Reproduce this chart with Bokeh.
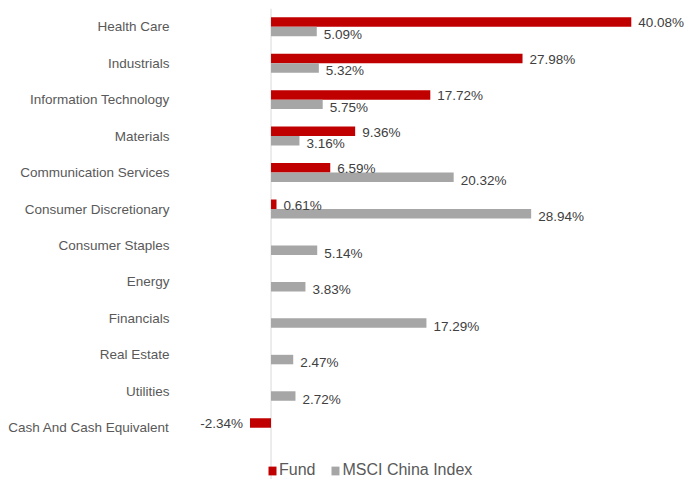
from bokeh.plotting import figure
from bokeh.models import ColumnDataSource, Range1d, FixedTicker, Span, Legend, LegendItem
from bokeh.transform import dodge
from bokeh.core.properties import value
from bokeh.embed import file_html
from bokeh.resources import INLINE

categories = ["Health Care", "Industrials", "Information Technology", "Materials",
              "Communication Services", "Consumer Discretionary", "Consumer Staples",
              "Energy", "Financials", "Real Estate", "Utilities", "Cash And Cash Equivalent"]
fund = [40.08, 27.98, 17.72, 9.36, 6.59, 0.61, None, None, None, None, None, -2.34]
index = [5.09, 5.32, 5.75, 3.16, 20.32, 28.94, 5.14, 3.83, 17.29, 2.47, 2.72, None]
series_names = ["Fund", "MSCI China Index"]

RED = "#C00000"
GRAY = "#A6A6A6"
FONT = "Liberation Sans"

def make_source(vals):
    ys, xs, labels, aligns, offs = [], [], [], [], []
    for i, v in enumerate(vals):
        if v is None:
            continue
        ys.append(i)
        xs.append(v)
        labels.append(f"{v:.2f}%")
        aligns.append("left" if v >= 0 else "right")
        offs.append(7 if v >= 0 else -7)
    return ColumnDataSource(dict(y=ys, x=xs, label=labels, align=aligns, xoff=offs))

src_f = make_source(fund)
src_i = make_source(index)

n = len(categories)
p = figure(width=685, height=479, output_backend="svg", toolbar_location=None,
           x_range=Range1d(-10.96, 46.11), y_range=Range1d(n - 0.5 + 0.92, -0.5),
           x_axis_location=None, min_border_left=172, min_border_right=0,
           min_border_top=8, min_border_bottom=0)
p.outline_line_color = None
p.xgrid.visible = False
p.ygrid.visible = False
p.background_fill_color = "white"
p.border_fill_color = "white"

p.yaxis.ticker = FixedTicker(ticks=list(range(n)))
p.yaxis.major_label_overrides = {i: c for i, c in enumerate(categories)}
p.yaxis.axis_line_color = None
p.yaxis.major_tick_line_color = None
p.yaxis.minor_tick_line_color = None
p.yaxis.major_tick_out = 0
p.yaxis.major_tick_in = 0
p.yaxis.minor_tick_out = 0
p.yaxis.major_label_standoff = 3
p.yaxis.major_label_text_font = FONT
p.yaxis.major_label_text_font_size = "13.5px"
p.yaxis.major_label_text_color = "#595959"

p.add_layout(Span(location=0, dimension="height", line_color="#D9D9D9", line_width=1,
                  level="underlay"))

bh = 0.26
rf = p.hbar(y=dodge("y", -bh / 2, range=p.y_range), right="x", left=0, height=bh,
            source=src_f, fill_color=RED, line_color=None)
ri = p.hbar(y=dodge("y", bh / 2, range=p.y_range), right="x", left=0, height=bh,
            source=src_i, fill_color=GRAY, line_color=None)

p.text(x="x", y=dodge("y", -bh / 2, range=p.y_range), text="label", source=src_f,
       text_align="align", x_offset="xoff", y_offset=1, text_baseline="middle",
       text_font=value(FONT), text_font_size="13.5px", text_color="#404040")
p.text(x="x", y=dodge("y", bh / 2, range=p.y_range), text="label", source=src_i,
       text_align="align", x_offset="xoff", y_offset=3, text_baseline="middle",
       text_font=value(FONT), text_font_size="13.5px", text_color="#404040")

legend = Legend(items=[LegendItem(label=series_names[0], renderers=[rf]),
                       LegendItem(label=series_names[1], renderers=[ri])],
                orientation="horizontal", location=(95, 0),
                glyph_width=10, glyph_height=11, label_height=14, label_standoff=2,
                spacing=15, padding=0, margin=0, border_line_color=None,
                background_fill_color="white", background_fill_alpha=0,
                label_text_font=FONT, label_text_font_size="16px",
                label_text_color="#595959")
p.add_layout(legend, "center")

open("out.html", "w").write(file_html(p, INLINE))
